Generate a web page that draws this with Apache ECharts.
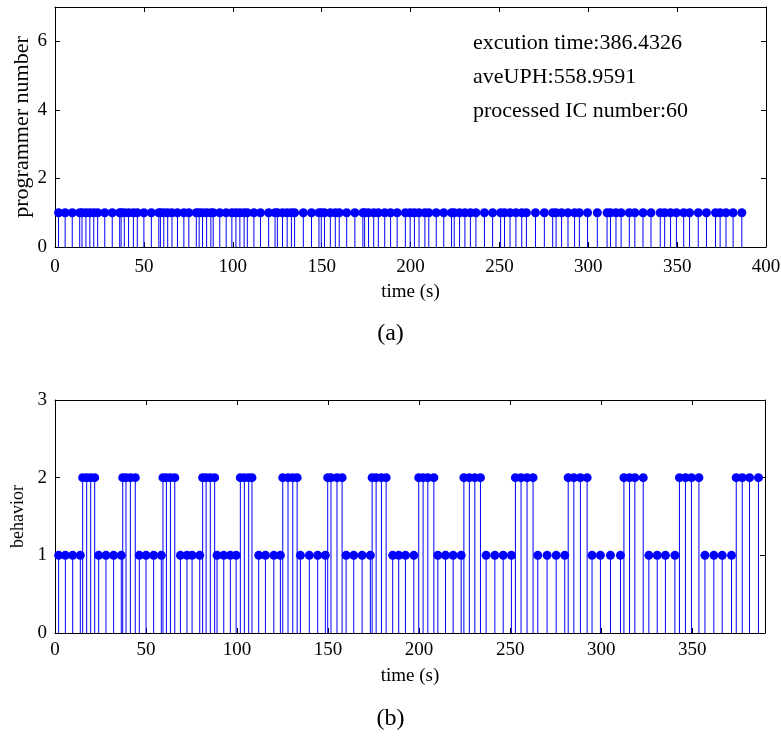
<!DOCTYPE html>
<html>
<head>
<meta charset="utf-8">
<script src="https://cdn.jsdelivr.net/npm/echarts@6/dist/echarts.min.js"></script>
<style>
  html, body { margin: 0; padding: 0; background: #fff; }
  #chart { width: 781px; height: 740px; }
</style>
</head>
<body>
<div id="chart"></div>
<script>
// event times (s) (b); plot (a) uses the same instants
const times = [
  2.0, 5.7, 9.7, 13.9, 15.2, 17.4, 19.6, 21.8,
  24.0, 28.0, 32.2, 36.4, 37.2, 39.0, 41.4, 44.1,
  46.3, 50.0, 54.2, 58.4, 59.3, 61.2, 63.4, 65.8,
  68.9, 72.5, 75.3, 79.5, 81.1, 83.0, 85.3, 87.7,
  89.0, 92.7, 96.3, 99.5, 101.8, 104.0, 106.4, 108.2,
  111.9, 115.6, 120.2, 123.8, 125.1, 128.0, 130.6, 133.0,
  134.8, 139.7, 144.3, 148.5, 149.8, 151.6, 154.9, 157.7,
  159.9, 164.1, 168.7, 173.2, 174.2, 176.4, 179.3, 181.9,
  185.5, 188.8, 192.5, 197.1, 199.8, 202.2, 204.8, 208.1,
  210.3, 214.5, 218.7, 223.1, 224.6, 227.6, 230.6, 233.7,
  236.8, 241.6, 246.2, 250.7, 252.9, 256.0, 259.3, 262.6,
  265.2, 270.3, 275.3, 280.0, 281.9, 285.0, 288.6, 292.3,
  295.0, 299.6, 305.1, 310.6, 312.5, 315.6, 318.5, 323.1,
  326.2, 330.8, 335.3, 340.5, 343.0, 346.3, 349.6, 353.7,
  357.0, 361.9, 366.5, 371.6, 374.2, 377.5, 381.5, 386.4
]
const programmerNumber = times.map(() => 1)
const behavior = [
  1, 1, 1, 1, 2, 2, 2, 2,
  1, 1, 1, 1, 2, 2, 2, 2,
  1, 1, 1, 1, 2, 2, 2, 2,
  1, 1, 1, 1, 2, 2, 2, 2,
  1, 1, 1, 1, 2, 2, 2, 2,
  1, 1, 1, 1, 2, 2, 2, 2,
  1, 1, 1, 1, 2, 2, 2, 2,
  1, 1, 1, 1, 2, 2, 2, 2,
  1, 1, 1, 1, 2, 2, 2, 2,
  1, 1, 1, 1, 2, 2, 2, 2,
  1, 1, 1, 1, 2, 2, 2, 2,
  1, 1, 1, 1, 2, 2, 2, 2,
  1, 1, 1, 1, 2, 2, 2, 2,
  1, 1, 1, 1, 2, 2, 2, 2,
  1, 1, 1, 1, 2, 2, 2, 2
]
const infoLines = ['excution time:386.4326', 'aveUPH:558.9591', 'processed IC number:60']

const FONT = '"Liberation Serif", "DejaVu Serif", serif'
const BLUE = '#0000ff'

const chart = echarts.init(document.getElementById('chart'))

const pairs = (ys) => times.map((t, i) => [t, ys[i]])

const stemSeries = (idx, ys) => ({
  type: 'custom',
  xAxisIndex: idx * 2,
  yAxisIndex: idx * 2,
  data: pairs(ys),
  silent: true,
  renderItem: (params, api) => {
    const p0 = api.coord([api.value(0), 0])
    const p1 = api.coord([api.value(0), api.value(1)])
    return {
      type: 'line',
      shape: { x1: p0[0], y1: p0[1], x2: p1[0], y2: p1[1] },
      style: { stroke: BLUE, lineWidth: 1 }
    }
  },
  z: 2
})

const dotSeries = (idx, ys) => ({
  type: 'scatter',
  xAxisIndex: idx * 2,
  yAxisIndex: idx * 2,
  data: pairs(ys),
  symbol: 'circle',
  symbolSize: 9,
  itemStyle: { color: BLUE, opacity: 1 },
  silent: true,
  z: 3
})

const tickStyle = { inside: true, length: 5, lineStyle: { color: '#000' } }
const labelStyle = { color: '#000', fontFamily: FONT, fontSize: 19 }
const frameLine = { show: true, onZero: false, lineStyle: { color: '#000' } }

const xMain = (grid, max, showMax, gap, margin) => ({
  type: 'value', gridIndex: grid, min: 0, max: max, interval: 50,
  name: 'time (s)', nameLocation: 'middle', nameGap: gap,
  nameTextStyle: labelStyle,
  axisLine: frameLine,
  axisTick: tickStyle,
  axisLabel: Object.assign({ margin: margin, showMaxLabel: showMax }, labelStyle),
  splitLine: { show: false }
})
const xTop = (grid, max) => ({
  type: 'value', gridIndex: grid, position: 'top', min: 0, max: max, interval: 50,
  axisLine: frameLine,
  axisTick: tickStyle, axisLabel: { show: false }, splitLine: { show: false }
})
const yMain = (grid, max, interval, name, gap, nameSize) => ({
  type: 'value', gridIndex: grid, min: 0, max: max, interval: interval,
  name: name, nameLocation: 'middle', nameGap: gap, nameRotate: 90,
  nameMoveOverlap: false,
  nameTextStyle: Object.assign({}, labelStyle, { fontSize: nameSize }),
  axisLine: frameLine,
  axisTick: tickStyle,
  axisLabel: Object.assign({ margin: 8, showMaxLabel: max % interval === 0 }, labelStyle),
  splitLine: { show: false }
})
const yRight = (grid, max, interval) => ({
  type: 'value', gridIndex: grid, position: 'right', min: 0, max: max, interval: interval,
  axisLine: frameLine,
  axisTick: tickStyle, axisLabel: { show: false }, splitLine: { show: false }
})

const option = {
  backgroundColor: '#fff',
  animation: false,
  grid: [
    { left: 55, top: 7, width: 711, height: 240, outerBoundsMode: 'none' },
    { left: 55, top: 400, width: 710, height: 233, outerBoundsMode: 'none' }
  ],
  xAxis: [
    xMain(0, 400, true, 36, 11), xTop(0, 400),
    xMain(1, 390, false, 34, 8), xTop(1, 390)
  ],
  yAxis: [
    yMain(0, 7, 2, 'programmer number', 22, 22), yRight(0, 7, 2),
    yMain(1, 3, 1, 'behavior', 28, 18), yRight(1, 3, 1)
  ],
  graphic: [
    ...infoLines.map((txt, i) => ({
      type: 'text', left: 473, top: 32 + i * 34,
      style: { text: txt, fill: '#000', font: '22px ' + FONT }
    })),
    { type: 'text', left: 'center', top: 322, style: { text: '(a)', fill: '#000', font: '24px ' + FONT } },
    { type: 'text', left: 'center', top: 707, style: { text: '(b)', fill: '#000', font: '24px ' + FONT } }
  ],
  series: [
    stemSeries(0, programmerNumber), dotSeries(0, programmerNumber),
    stemSeries(1, behavior), dotSeries(1, behavior)
  ]
}

chart.setOption(option)
</script>
</body>
</html>
